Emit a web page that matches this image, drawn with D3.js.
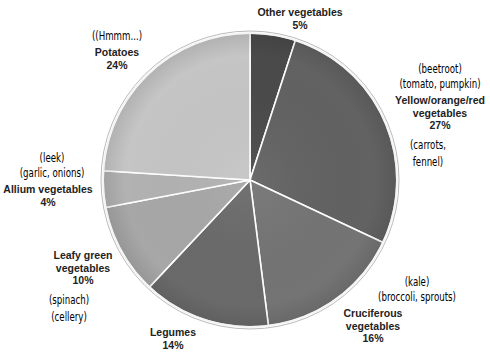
<!DOCTYPE html>
<html>
<head>
<meta charset="utf-8">
<script src="https://cdn.jsdelivr.net/npm/d3@7"></script>
<style>
  body { margin: 0; background: #fff; }
  .lbl { font-family: "Liberation Sans", Arial, sans-serif; font-weight: bold; font-size: 10.5px; fill: #222; }
  .note { font-family: "DejaVu Sans", sans-serif; font-stretch: condensed; font-size: 13px; fill: #000; }
</style>
</head>
<body>
<div id="chart"></div>
<script>
// data, clockwise from 12 o'clock
var categories = ["Other vegetables", "Yellow/orange/red vegetables", "Cruciferous vegetables",
                  "Legumes", "Leafy green vegetables", "Allium vegetables", "Potatoes"];
var shares = [5, 27, 16, 14, 10, 4, 24];
var labelLines = [
    ["Other vegetables"],
    ["Yellow/orange/red", "vegetables"],
    ["Cruciferous", "vegetables"],
    ["Legumes"],
    ["Leafy green", "vegetables"],
    ["Allium vegetables"],
    ["Potatoes"]
];
var notesAbove = [[], ["(beetroot)", "(tomato,  pumpkin)"], ["(kale)", "(broccoli,  sprouts)"], [], [], ["(leek)", "(garlic,  onions)"], ["((Hmmm...)"]];
var notesBelow = [[], ["(carrots,", "fennel)"], [], [], ["(spinach)", "(cellery)"], [], []];
var fills = ["#4a4a4a", "#626262", "#747474", "#6a6a6a", "#a7a7a7", "#b2b2b2", "#c5c5c5"];

// label anchor (x, y of first bold line) - layout only
var labelPos = [[300, 16], [440, 104], [373, 317], [173, 336], [83, 259], [48, 193], [117, 56]];
var noteOffset = [[0, 0], [0, 0], [44, 0], [0, 0], [-2, 0], [4, 0], [0, 0]];
var noteScale = 0.74;
var noteGap = 14.5;

var width = 490, height = 354;
var cx = 250, cy = 180, radius = 147;

var svg = d3.select('#chart').append('svg')
    .attr('width', width).attr('height', height);

var defs = svg.append('defs');
var shade = defs.append('radialGradient').attr('id', 'shade')
    .attr('cx', 0.5).attr('cy', 0.5).attr('r', 0.5);
shade.append('stop').attr('offset', '0%').attr('stop-color', '#fff').attr('stop-opacity', 0.06);
shade.append('stop').attr('offset', '85%').attr('stop-color', '#000').attr('stop-opacity', 0.0);
shade.append('stop').attr('offset', '100%').attr('stop-color', '#000').attr('stop-opacity', 0.10);

var g = svg.append('g').attr('transform', `translate(${cx},${cy})`);

var pie = d3.pie().sort(null).value(d => d);
var arc = d3.arc().innerRadius(0).outerRadius(radius);
var arcs = pie(shares);

// soft outer rim
g.append('circle').attr('r', radius + 2).attr('fill', 'none')
    .attr('stroke', '#bbb').attr('stroke-width', 1);

g.selectAll('path.slice').data(arcs)
    .join('path')
    .attr('class', 'slice')
    .attr('d', arc)
    .attr('fill', (d, i) => fills[i])
    .attr('stroke', '#fff')
    .attr('stroke-width', 1.6)
    .attr('stroke-linejoin', 'round');

g.append('circle').attr('r', radius).attr('fill', 'url(#shade)')
    .attr('stroke', '#f4f4f4').attr('stroke-width', 2);

function note(x, y, t) {
    lbl.append('text').attr('class', 'note').attr('text-anchor', 'middle')
        .attr('transform', `translate(${x},${y}) scale(${noteScale},1)`)
        .text(t);
}

// labels
var lbl = svg.append('g');
arcs.forEach(function (d, i) {
    var x = labelPos[i][0], y = labelPos[i][1];
    var lines = labelLines[i].concat([shares[i] + '%']);
    var above = notesAbove[i], below = notesBelow[i];
    var nx = x + noteOffset[i][0];
    above.forEach(function (t, k) {
        note(nx, y - 2 - (above.length - k) * noteGap, t);
    });
    lines.forEach(function (t, k) {
        lbl.append('text').attr('class', 'lbl').attr('text-anchor', 'middle')
            .attr('x', x).attr('y', y + k * 12.5)
            .text(t);
    });
    var by = y + (lines.length - 1) * 12.5;
    below.forEach(function (t, k) {
        note(nx - 12, by + 20 + k * 17, t);
    });
});
</script>
</body>
</html>
